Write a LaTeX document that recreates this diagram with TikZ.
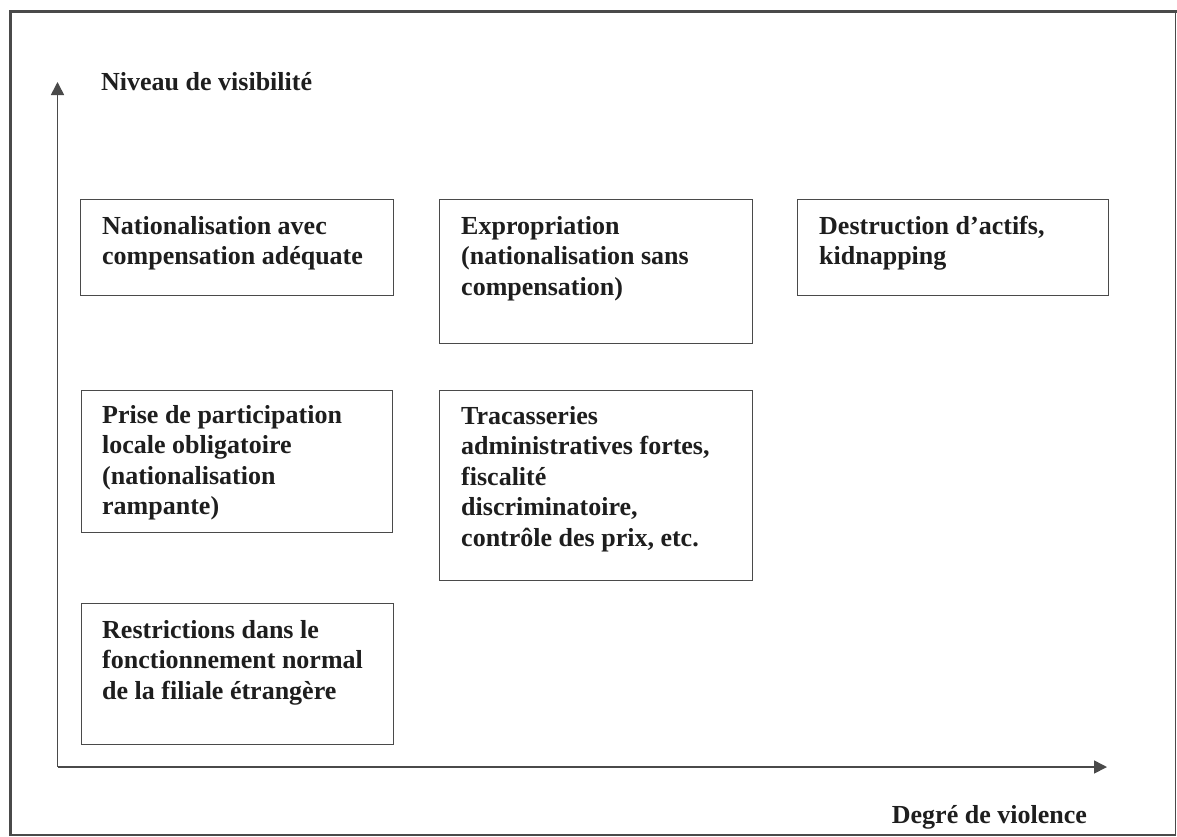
\documentclass[tikz,border=0pt]{standalone}
\usepackage{fontspec}
\setmainfont{Liberation Serif}
\usetikzlibrary{arrows.meta}
\definecolor{ink}{HTML}{1E1E1E}
\definecolor{rule}{HTML}{4A4A4A}
\begin{document}
\begin{tikzpicture}[x=1pt,y=-1pt,
  cell/.style={draw=rule,line width=1.3pt,inner sep=0pt,anchor=north west},
  celltext/.style={anchor=base west,inner sep=0pt,text=ink,
    font=\fontsize{26}{30.5}\selectfont\bfseries},
  axis/.style={draw=rule,line width=1.6pt,-{Triangle[length=13pt,width=13pt]}},
  axislabel/.style={inner sep=0pt,text=ink,font=\fontsize{26}{30.5}\selectfont\bfseries}]
\useasboundingbox (0,0) rectangle (1177,836);
\fill[white] (0,0) rectangle (1177,836);
% outer frame
\draw[rule,line width=1.5pt] (10,11.5) rectangle (1175.5,834.8);
\draw[rule,line width=3.5pt] (10.5,836) -- (10.5,11.5) -- (1177,11.5);

% axes
\coordinate (origin) at (57.5,767);
\coordinate (ytip) at (57.5,82);
\coordinate (xtip) at (1107,767);
\draw[axis] (origin) -- (ytip);
\draw[axis] (origin) -- (xtip);
\node[axislabel,anchor=base west] (ylab) at (101,90) {Niveau de visibilité};
\node[axislabel,anchor=base east] (xlab) at (1087,823) {Degré de violence};

% boxes
\node[cell,minimum width=313pt,minimum height=96pt] (b1) at (80,199) {};
\node[cell,minimum width=313pt,minimum height=144pt] (b2) at (439,199) {};
\node[cell,minimum width=311pt,minimum height=96pt] (b3) at (797,199) {};
\node[cell,minimum width=311pt,minimum height=142pt] (b4) at (81,390) {};
\node[cell,minimum width=313pt,minimum height=190pt] (b5) at (439,390) {};
\node[cell,minimum width=312pt,minimum height=141pt] (b6) at (81,603) {};

% box texts
\node[celltext] (t1) at ([shift={(22,35)}]b1.north west)
  {\begin{tabular}[t]{@{}l@{}}Nationalisation avec\\compensation adéquate\end{tabular}};
\node[celltext] (t2) at ([shift={(22,35)}]b2.north west)
  {\begin{tabular}[t]{@{}l@{}}Expropriation\\(nationalisation sans\\compensation)\end{tabular}};
\node[celltext] (t3) at ([shift={(22,35)}]b3.north west)
  {\begin{tabular}[t]{@{}l@{}}Destruction d’actifs,\\kidnapping\end{tabular}};
\node[celltext] (t4) at ([shift={(21,33)}]b4.north west)
  {\begin{tabular}[t]{@{}l@{}}Prise de participation\\locale obligatoire\\(nationalisation\\rampante)\end{tabular}};
\node[celltext] (t5) at ([shift={(22,34)}]b5.north west)
  {\begin{tabular}[t]{@{}l@{}}Tracasseries\\administratives fortes,\\fiscalité\\discriminatoire,\\contrôle des prix, etc.\end{tabular}};
\node[celltext] (t6) at ([shift={(21,35)}]b6.north west)
  {\begin{tabular}[t]{@{}l@{}}Restrictions dans le\\fonctionnement normal\\de la filiale étrangère\end{tabular}};
\end{tikzpicture}
\end{document}
